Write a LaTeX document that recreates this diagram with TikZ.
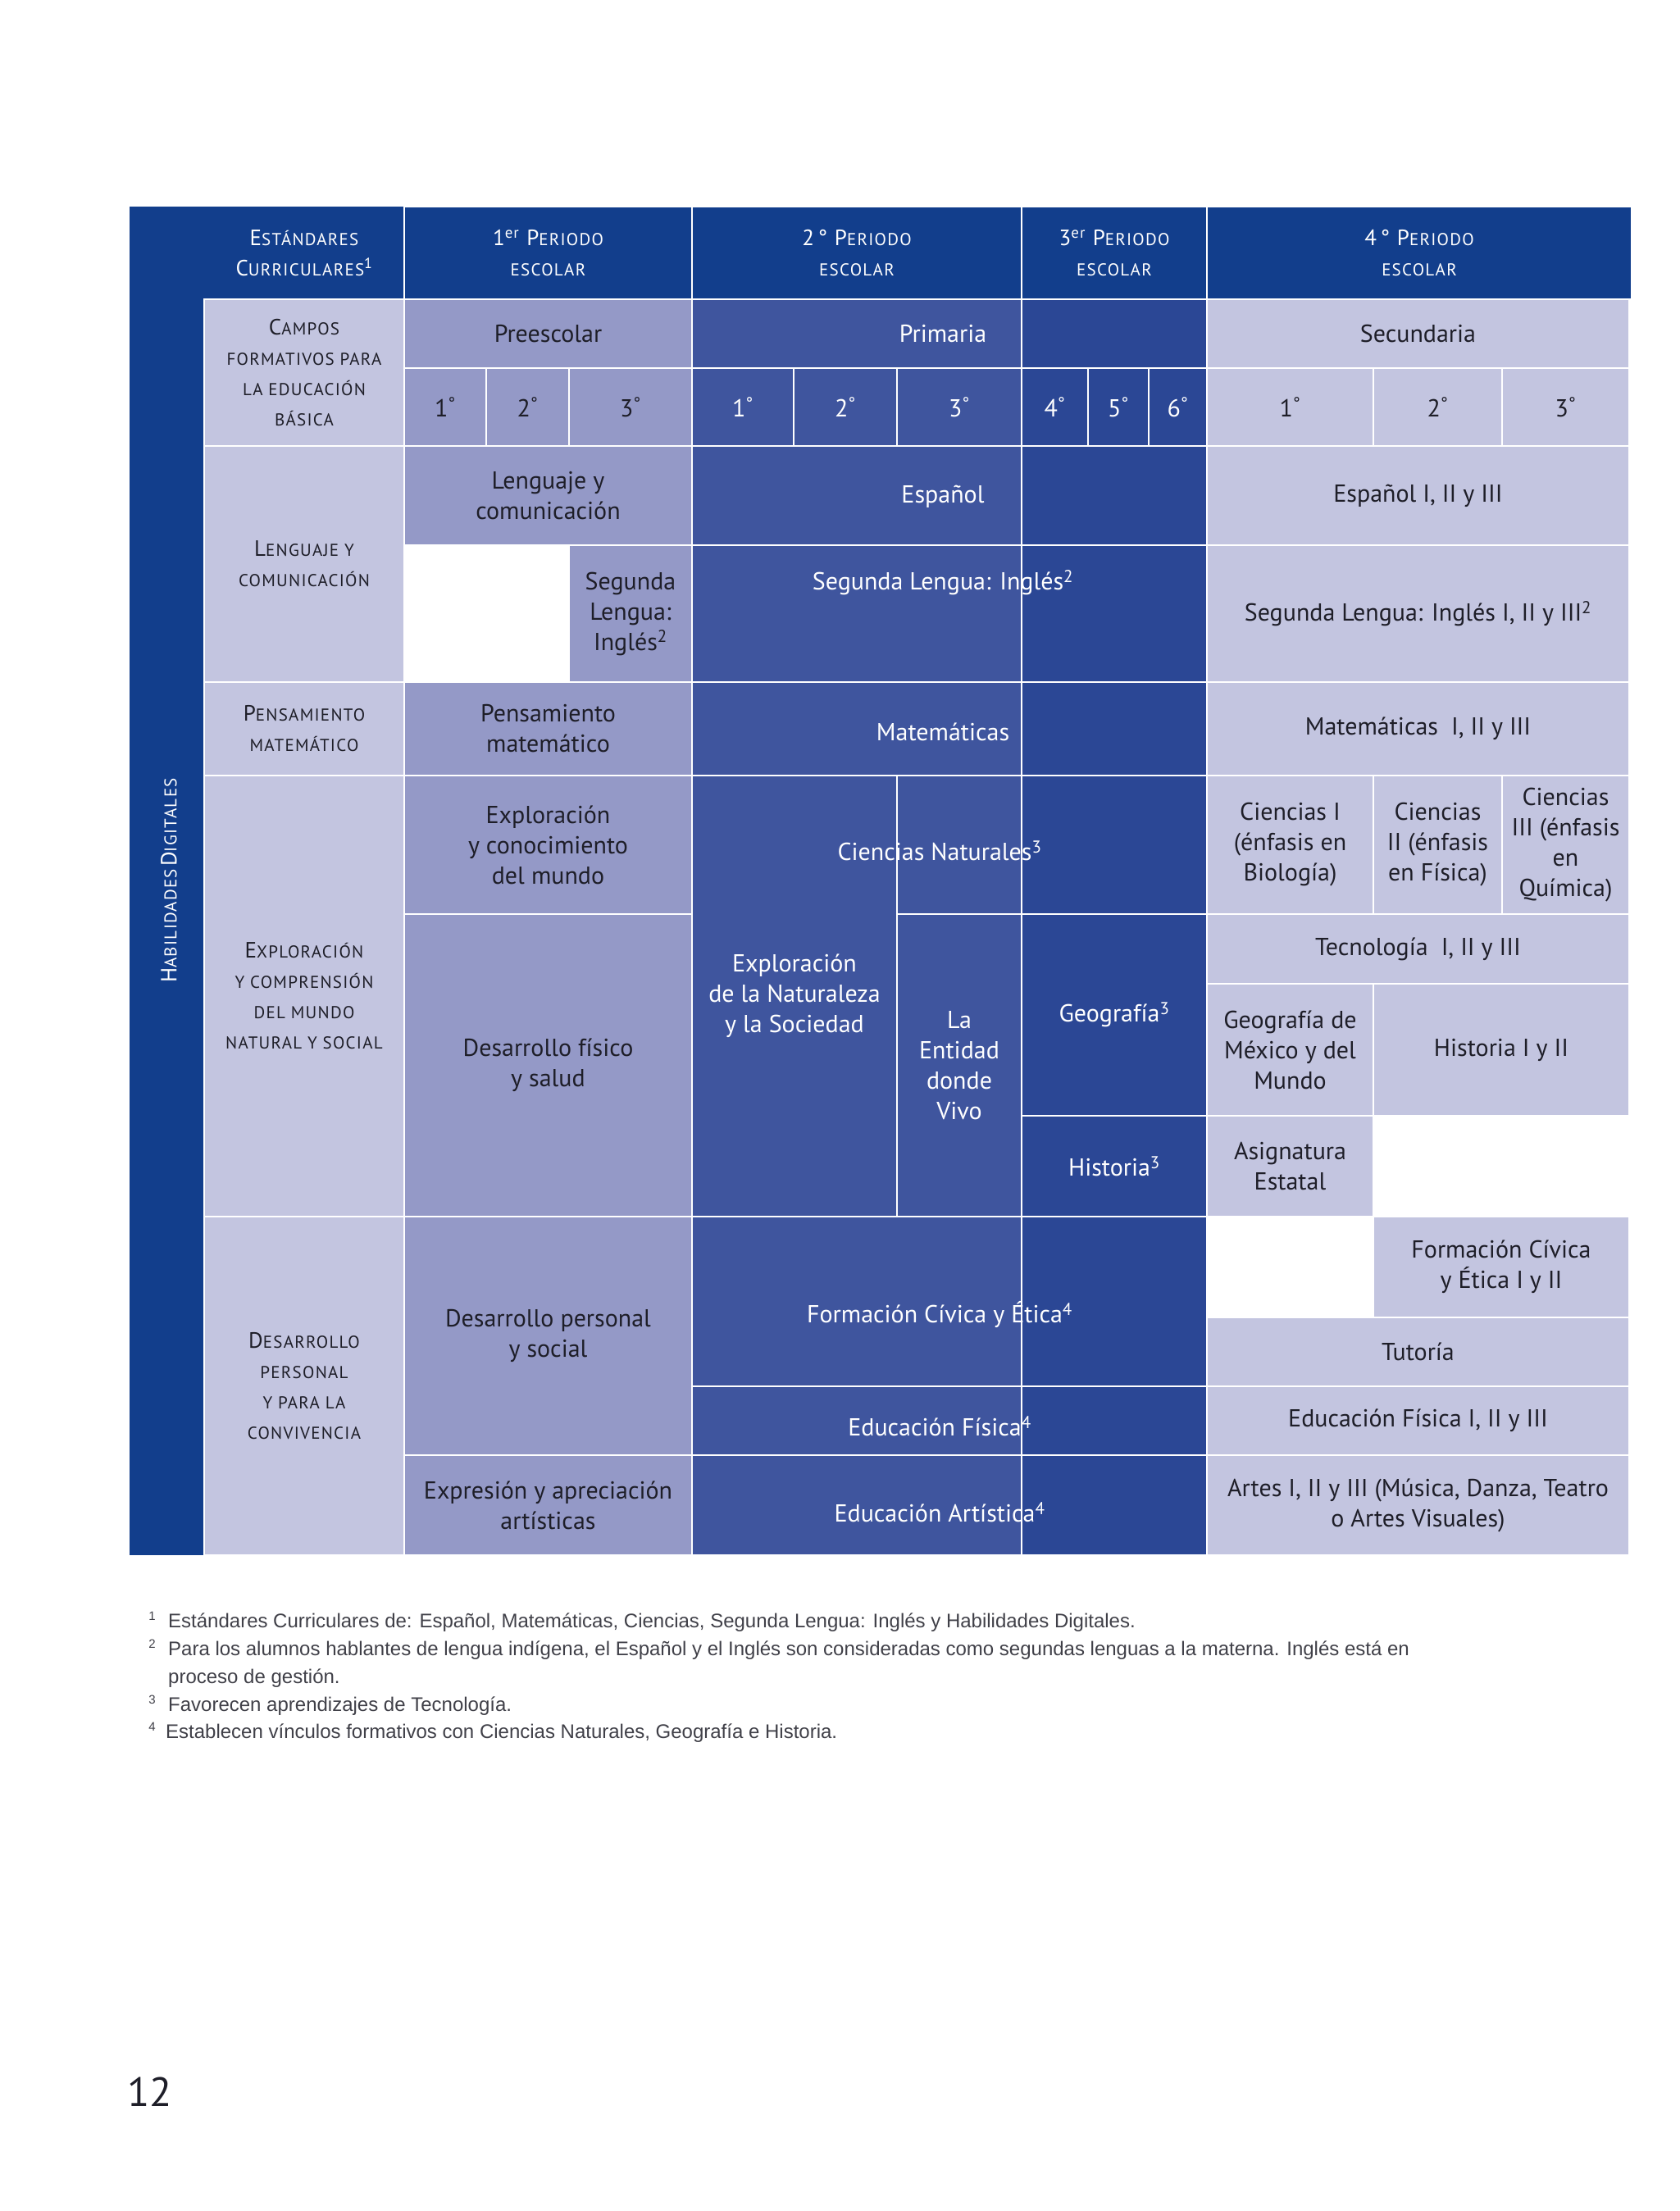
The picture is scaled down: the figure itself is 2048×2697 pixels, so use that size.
\documentclass[tikz,border=0pt]{standalone}
\usepackage{fontspec}
\setmainfont{PT Sans}
\newfontfamily\scf[LetterSpace=6]{PT Sans}
\newfontfamily\arialf{Liberation Sans}
\definecolor{hdr}{HTML}{123E8C}
\definecolor{lite}{HTML}{C3C5E0}
\definecolor{pre}{HTML}{9499C7}
\definecolor{pri}{HTML}{3F559E}
\definecolor{ter}{HTML}{2B4795}
\definecolor{ink}{HTML}{1E1E28}
\newcommand\Sc[2]{{\fontsize{27}{32}\selectfont #1}{\fontsize{21}{32}\selectfont\MakeUppercase{#2}}}
\newcommand\Sm[1]{{\fontsize{21}{32}\selectfont\MakeUppercase{#1}}}
\newcommand\dg{\textsuperscript{°}}
\newcommand\cel[7]{\pgfmathsetmacro\cx{(#2+#4)/2}\pgfmathsetmacro\cy{(#3+#5)/2}\pgfmathsetmacro\cw{#4-#2}\pgfmathsetmacro\ch{#5-#3}\node[#6,minimum width=\cw pt,minimum height=\ch pt] (#1) at (\cx,\cy) {#7};}
\tikzset{
 base/.style={draw=white,line width=2.5pt,inner sep=0pt,align=center,font=\fontsize{30}{37}\selectfont},
 L/.style={base,fill=lite,text=ink},
 P/.style={base,fill=pre,text=ink},
 M/.style={base,fill=pri,text=white},
 D/.style={base,fill=ter,text=white},
 H/.style={base,fill=hdr,text=white},
 W/.style={base,fill=white},
 T/.style={inner sep=0pt,align=center,font=\fontsize{30}{37}\selectfont,text=white},
 F/.style={inner sep=0pt,anchor=west,font=\arialf\fontsize{24}{30}\selectfont,text=ink!85},
 N/.style={inner sep=0pt,anchor=north east,font=\arialf\fontsize{15}{15}\selectfont,text=ink!85},
}
\begin{document}
\begin{tikzpicture}[x=1pt,y=-1pt]
\useasboundingbox (0,0) rectangle (2048,2697);
% left strip
\node[fill=hdr,inner sep=0pt,minimum width=91pt,minimum height=1645pt] (strip) at (203.5,1074.5) {};
\node[rotate=90,text=white,font=\scf] (hab) at (206,1074) {\Sc{H}{abilidades} \Sc{D}{igitales}};
% header
\cel{h0}{249}{252}{493}{365}{H,draw=none}{\scf\Sc{E}{stándares}\\\scf\Sc{C}{urriculares}\textsuperscript{\fontsize{18}{18}\selectfont 1}}
\cel{h1}{493}{252}{844}{365}{H}{\scf{\fontsize{27}{32}\selectfont 1\textsuperscript{er} P}\Sm{eriodo}\\\scf\Sm{escolar}}
\cel{h2}{844}{252}{1246}{365}{H}{\scf{\fontsize{27}{32}\selectfont 2\,° P}\Sm{eriodo}\\\scf\Sm{escolar}}
\cel{h3}{1246}{252}{1472}{365}{H}{\scf{\fontsize{27}{32}\selectfont 3\textsuperscript{er} P}\Sm{eriodo}\\\scf\Sm{escolar}}
\cel{h4}{1472}{252}{1990}{365}{H}{\scf{\fontsize{27}{32}\selectfont 4\,° P}\Sm{eriodo}\\\scf\Sm{escolar}}
% label column
\cel{c0}{249}{365}{493}{544}{L}{\scf\Sc{C}{ampos}\\\scf\Sm{formativos para}\\\scf\Sm{la educación}\\\scf\Sm{básica}}
\cel{c1}{249}{544}{493}{832}{L}{\scf\Sc{L}{enguaje y}\\\scf\Sm{comunicación}}
\cel{c2}{249}{832}{493}{946}{L}{\scf\Sc{P}{ensamiento}\\\scf\Sm{matemático}}
\cel{c3}{249}{946}{493}{1484}{L}{\scf\Sc{E}{xploración}\\\scf\Sm{y comprensión}\\\scf\Sm{del mundo}\\\scf\Sm{natural y social}}
\cel{c4}{249}{1484}{493}{1897}{L}{\scf\Sc{D}{esarrollo}\\\scf\Sm{personal}\\\scf\Sm{y para la}\\\scf\Sm{convivencia}}
% preescolar
\cel{p0}{493}{365}{844}{449}{P}{Preescolar}
\cel{pg1}{493}{449}{593}{544}{P}{1\dg}
\cel{pg2}{593}{449}{694}{544}{P}{2\dg}
\cel{pg3}{694}{449}{844}{544}{P}{3\dg}
\cel{p1}{493}{544}{844}{665}{P}{Lenguaje y\\comunicación}
\cel{pw}{493}{665}{694}{832}{W}{}
\cel{p2}{694}{665}{844}{832}{P}{Segunda\\Lengua:\\Inglés\textsuperscript{2}}
\cel{p3}{493}{832}{844}{946}{P}{Pensamiento\\matemático}
\cel{p4}{493}{946}{844}{1115}{P}{Exploración\\y conocimiento\\del mundo}
\cel{p5}{493}{1115}{844}{1484}{P}{Desarrollo físico\\y salud}
\cel{p6}{493}{1484}{844}{1775}{P}{Desarrollo personal\\y social}
\cel{p7}{493}{1775}{844}{1897}{P}{Expresión y apreciación\\artísticas}
% primaria
\cel{r0a}{844}{365}{1246}{449}{M}{}
\cel{r0b}{1246}{365}{1472}{449}{D}{}
\node[T] (prim) at (1150,407) {Primaria};
\cel{rg1}{844}{449}{968}{544}{M}{1\dg}
\cel{rg2}{968}{449}{1094}{544}{M}{2\dg}
\cel{rg3}{1094}{449}{1246}{544}{M}{3\dg}
\cel{rg4}{1246}{449}{1327}{544}{D}{4\dg}
\cel{rg5}{1327}{449}{1401}{544}{D}{5\dg}
\cel{rg6}{1401}{449}{1472}{544}{D}{6\dg}
\cel{r1a}{844}{544}{1246}{665}{M}{}
\cel{r1b}{1246}{544}{1472}{665}{D}{}
\node[T] (esp) at (1150,606) {Español};
\cel{r2a}{844}{665}{1246}{832}{M}{}
\cel{r2b}{1246}{665}{1472}{832}{D}{}
\node[T] (sli) at (1150,711) {Segunda Lengua: Inglés\textsuperscript{2}};
\cel{r3a}{844}{832}{1246}{946}{M}{}
\cel{r3b}{1246}{832}{1472}{946}{D}{}
\node[T] (mat) at (1150,893) {Matemáticas};
\cel{r4}{844}{946}{1094}{1484}{M}{Exploración\\de la Naturaleza\\y la Sociedad}
\cel{r5a}{1094}{946}{1246}{1115}{M}{}
\cel{r5b}{1246}{946}{1472}{1115}{D}{}
\node[T] (cn) at (1146,1038) {Ciencias Naturales\textsuperscript{3}};
\cel{r6}{1094}{1115}{1246}{1484}{M}{La\\Entidad\\donde\\Vivo}
\cel{r7}{1246}{1115}{1472}{1361}{D}{Geografía\textsuperscript{3}}
\cel{r8}{1246}{1361}{1472}{1484}{D}{Historia\textsuperscript{3}}
\cel{r9a}{844}{1484}{1246}{1691}{M}{}
\cel{r9b}{1246}{1484}{1472}{1691}{D}{}
\node[T] (fce) at (1146,1604) {Formación Cívica y Ética\textsuperscript{4}};
\cel{r10a}{844}{1691}{1246}{1775}{M}{}
\cel{r10b}{1246}{1691}{1472}{1775}{D}{}
\node[T] (ef) at (1146,1740) {Educación Física\textsuperscript{4}};
\cel{r11a}{844}{1775}{1246}{1897}{M}{}
\cel{r11b}{1246}{1775}{1472}{1897}{D}{}
\node[T] (ea) at (1146,1845) {Educación Artística\textsuperscript{4}};
% secundaria
\cel{s0}{1472}{365}{1987}{449}{L}{Secundaria}
\cel{sg1}{1472}{449}{1675}{544}{L}{1\dg}
\cel{sg2}{1675}{449}{1832}{544}{L}{2\dg}
\cel{sg3}{1832}{449}{1987}{544}{L}{3\dg}
\cel{s1}{1472}{544}{1987}{665}{L}{Español I, II y III}
\cel{s2}{1472}{665}{1987}{832}{L}{Segunda Lengua: Inglés I, II y III\textsuperscript{2}}
\cel{s3}{1472}{832}{1987}{946}{L}{Matemáticas~ I, II y III}
\cel{s4}{1472}{946}{1675}{1115}{L}{Ciencias I\\(énfasis en\\Biología)}
\cel{s5}{1675}{946}{1832}{1115}{L}{Ciencias\\II (énfasis\\en Física)}
\cel{s6}{1832}{946}{1987}{1115}{L}{Ciencias\\III (énfasis\\en\\Química)}
\cel{s7}{1472}{1115}{1987}{1200}{L}{Tecnología~ I, II y III}
\cel{s8}{1472}{1200}{1675}{1361}{L}{Geografía de\\México y del\\Mundo}
\cel{s9}{1675}{1200}{1987}{1361}{L}{Historia I y II}
\cel{s10}{1472}{1361}{1675}{1484}{L}{Asignatura\\Estatal}
\cel{s11}{1675}{1484}{1987}{1607}{L}{Formación Cívica\\y Ética I y II}
\cel{s12}{1472}{1607}{1987}{1691}{L}{Tutoría}
\cel{s13}{1472}{1691}{1987}{1775}{L}{Educación Física I, II y III}
\cel{s14}{1472}{1775}{1987}{1897}{L}{Artes I, II y III (Música, Danza, Teatro\\o Artes Visuales)}
% footnotes
\node[N] (n1) at (190,1966) {1};
\node[F] (f1) at (205,1979) {Estándares Curriculares de: Español, Matemáticas, Ciencias, Segunda Lengua: Inglés y Habilidades Digitales.};
\node[N] (n2) at (190,2000) {2};
\node[F] (f2) at (205,2013) {Para los alumnos hablantes de lengua indígena, el Español y el Inglés son consideradas como segundas lenguas a la materna. Inglés está en};
\node[F] (f2b) at (205,2047) {proceso de gestión.};
\node[N] (n3) at (190,2068) {3};
\node[F] (f3) at (205,2081) {Favorecen aprendizajes de Tecnología.};
\node[N] (n4) at (190,2101) {4};
\node[F] (f4) at (202,2114) {Establecen vínculos formativos con Ciencias Naturales, Geografía e Historia.};
\node[anchor=west,inner sep=0pt,font=\fontsize{50}{50}\selectfont,text=ink] (pg) at (155,2552) {12};
\end{tikzpicture}
\end{document}
